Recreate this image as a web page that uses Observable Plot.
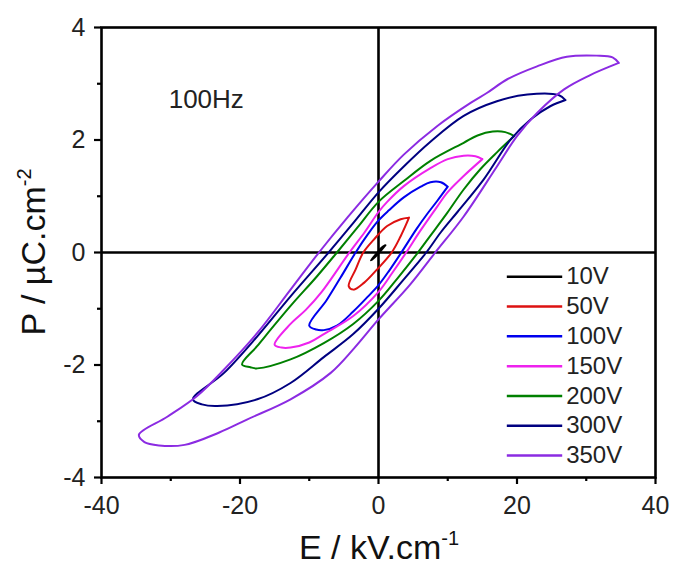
<!DOCTYPE html>
<html><head><meta charset="utf-8">
<script src="https://cdn.jsdelivr.net/npm/d3@7"></script>
<script src="https://cdn.jsdelivr.net/npm/@observablehq/plot@0.6"></script>
<style>body{margin:0;background:#fff;} svg{display:block;}</style>
</head><body><div id="chart"></div>
<script>
// Series (applied voltage) and colours
const series = ["10V","50V","100V","150V","200V","300V","350V"];
const colors = ["#000000","#dd1111","#0000ee","#ee22ee","#008000","#000080","#8b2be2"];

// Loops: E (kV/cm) and P (µC/cm²), traced around each loop
const E10 = [1.0, 0.4, -0.3, -1.1, -0.5, 0.2, 1.0];
const P10 = [0.13, 0.08, -0.02, -0.14, -0.08, 0.01, 0.13];

const E50 = [4.4, 3.2, 1.25, -0.67, -2.2, -3.3, -4.3, -3.6, -2.1, -0.2, 1.9, 3.2, 4.1, 4.4];
const P50 = [0.62, 0.59, 0.47, 0.23, 0.0, -0.30, -0.60, -0.66, -0.54, -0.30, 0.0, 0.29, 0.53, 0.62];

const E100 = [10.0, 9.0, 7.5, 6.1, 3.65, 1.5, 0, -1.5, -3.3, -5.5, -7.5, -10.0, -9.0, -7.9, -6.0, -3.65, -1.5, 0, 1.5, 3.3, 5.5, 7.0, 8.5, 10.0];
const P100 = [1.17, 1.25, 1.25, 1.17, 0.98, 0.75, 0.57, 0.33, 0.0, -0.45, -0.85, -1.30, -1.37, -1.38, -1.30, -1.05, -0.78, -0.58, -0.33, 0.0, 0.42, 0.68, 0.92, 1.17];

const E150 = [15.0, 14.0, 12.3, 10.0, 7.5, 3.65, 1.25, 0, -2.0, -4.2, -8.2, -10.5, -12.7, -15.0, -14.0, -12.7, -10.0, -7.9, -3.65, 0, 2.0, 4.0, 6.0, 8.5, 9.9, 12.3, 15.0];
const P150 = [1.66, 1.71, 1.72, 1.66, 1.50, 1.18, 0.90, 0.72, 0.36, 0.0, -0.70, -1.02, -1.27, -1.64, -1.69, -1.69, -1.60, -1.45, -1.13, -0.70, -0.36, 0.0, 0.38, 0.82, 1.06, 1.36, 1.66];

const E200 = [19.6, 18.3, 16.5, 14.3, 12.3, 7.5, 3.65, 0, -3.0, -6.0, -9.0, -12.7, -17.5, -19.7, -18.5, -17.5, -12.7, -7.9, -3.65, 0, 2.8, 5.7, 7.5, 9.9, 12.3, 14.7, 17.1, 19.6];
const P200 = [2.07, 2.14, 2.15, 2.08, 1.95, 1.63, 1.27, 0.90, 0.45, 0.0, -0.44, -0.95, -1.66, -1.99, -2.04, -2.06, -1.90, -1.61, -1.27, -0.86, -0.45, 0.0, 0.30, 0.70, 1.12, 1.48, 1.78, 2.07];

const E300 = [27.0, 26.0, 21.5, 17.1, 12.3, 7.5, 3.65, 0, -3.6, -7.2, -12.7, -17.5, -22.3, -26.8, -25.5, -23.3, -17.5, -12.7, -7.9, -3.65, 0, 3.5, 6.9, 9.0, 11.4, 15.2, 19.1, 22.0, 24.8, 27.0];
const P300 = [2.71, 2.80, 2.81, 2.69, 2.43, 1.97, 1.53, 1.07, 0.53, 0.0, -0.78, -1.49, -2.14, -2.61, -2.70, -2.73, -2.61, -2.32, -1.86, -1.45, -1.00, -0.50, 0.0, 0.36, 0.72, 1.30, 2.01, 2.37, 2.60, 2.71];

const E350 = [34.7, 33.8, 31.5, 27.2, 22.9, 18.6, 15.7, 13.3, 8.5, 3.65, 0, -4.5, -8.6, -12.7, -17.5, -22.3, -26.2, -30.5, -34.6, -33.8, -31.7, -28.0, -23.0, -19.0, -12.7, -6.9, -3.5, 0, 4.5, 8.2, 12.3, 17.1, 20.0, 22.9, 26.8, 30.5, 34.7];
const P350 = [3.37, 3.47, 3.50, 3.48, 3.31, 3.08, 2.84, 2.66, 2.25, 1.74, 1.26, 0.62, 0.0, -0.66, -1.43, -2.08, -2.55, -2.92, -3.24, -3.37, -3.43, -3.42, -3.20, -2.97, -2.61, -2.14, -1.70, -1.19, -0.58, 0.0, 0.64, 1.53, 2.07, 2.48, 2.90, 3.15, 3.37];

// Axis ticks
const xTicks = [-40, -20, 0, 20, 40];
const xMinor = [-30, -10, 10, 30];
const yTicks = [-4, -2, 0, 2, 4];
const yMinor = [-3, -1, 1, 3];

// Annotation
const annotation = ["100Hz"];

// Build the table
const loops = [[E10,P10],[E50,P50],[E100,P100],[E150,P150],[E200,P200],[E300,P300],[E350,P350]];
const rows = [];
series.forEach((s, i) => {
  const [E, P] = loops[i];
  E.forEach((e, j) => rows.push({s, E: e, P: P[j]}));
});

// Legend layout (in data units, inside the frame)
const legTop = -0.43, legStep = 0.53;
const legend = series.map((s, i) => ({s, y: legTop - i * legStep}));

const font = "'Liberation Sans', Arial, sans-serif";

const chart = Plot.plot({
  width: 673, height: 567,
  marginLeft: 101, marginRight: 18, marginTop: 27, marginBottom: 90,
  style: {fontFamily: font, fontSize: "25px", color: "#000", background: "#fff", overflow: "visible"},
  x: {domain: [-40, 40]},
  y: {domain: [-4, 4]},
  color: {domain: series, range: colors},
  marks: [
    Plot.ruleX([0], {stroke: "#000", strokeWidth: 2.6}),
    Plot.ruleY([0], {stroke: "#000", strokeWidth: 2.6}),
    Plot.line(rows, {x: "E", y: "P", z: "s", stroke: "s", strokeWidth: 2, curve: "catmull-rom"}),
    Plot.ruleY(legend, {y: "y", x1: 18.6, x2: 26.6, stroke: "s", strokeWidth: 2.5}),
    Plot.text(legend, {x: 27.1, y: "y", text: "s", textAnchor: "start", fontSize: 24, fill: "#222"}),
    Plot.text(annotation, {x: -30.3, y: 2.72, text: d => d, textAnchor: "start", fontSize: 26, fill: "#222"}),
    Plot.frame({stroke: "#000", strokeWidth: 2.6}),
    Plot.axisX({ticks: xTicks, tickSize: 7, tickPadding: 12, strokeWidth: 2.2, label: null, tickFormat: d => String(d), fontSize: 25, fill: "#222"}),
    Plot.axisX({ticks: xMinor, tickSize: 4, strokeWidth: 2.2, label: null, tickFormat: () => ""}),
    Plot.axisY({ticks: yTicks, tickSize: 7, tickPadding: 9, strokeWidth: 2.2, label: null, tickFormat: d => String(d), fontSize: 25, fill: "#222"}),
    Plot.axisY({ticks: yMinor, tickSize: 4, strokeWidth: 2.2, label: null, tickFormat: () => ""})
  ]
});

document.getElementById("chart").appendChild(chart);

// Axis titles with superscripts
const svg = d3.select(chart);
const xt = svg.append("text")
  .attr("x", 379).attr("y", 559)
  .attr("text-anchor", "middle")
  .attr("font-family", font).attr("font-size", 34).attr("fill", "#111");
xt.append("tspan").text("E / kV.cm");
xt.append("tspan").attr("font-size", 20).attr("dy", -14).text("-1");

const yt = svg.append("text")
  .attr("transform", "translate(45,252) rotate(-90)")
  .attr("text-anchor", "middle")
  .attr("font-family", font).attr("font-size", 34).attr("fill", "#111");
yt.append("tspan").text("P / µC.cm");
yt.append("tspan").attr("font-size", 20).attr("dy", -14).text("-2");
</script>
</body></html>
